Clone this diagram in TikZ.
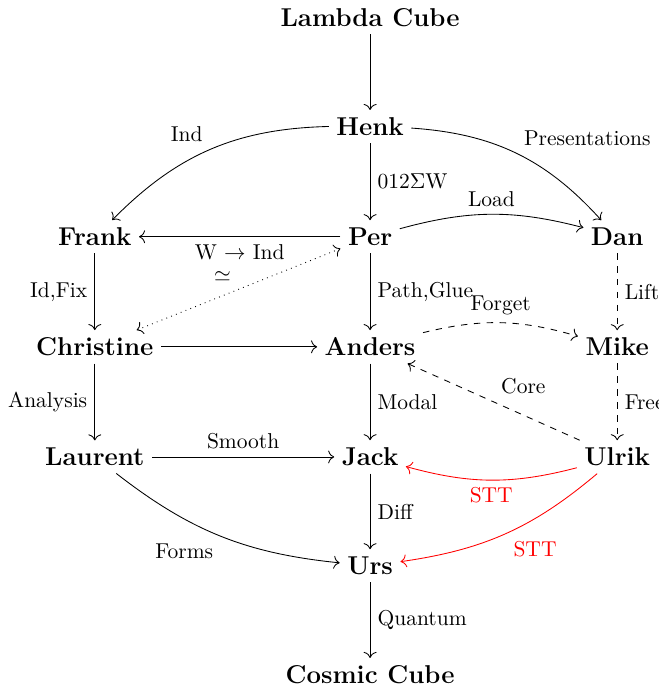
\documentclass[tikz,border=0pt]{standalone}
\usepackage{amsmath,amssymb}
\usepackage{tikz}
\usetikzlibrary{calc,arrows.meta}

\begin{document}
\begin{tikzpicture}[who/.style={font=\large\bfseries},
    lbl/.style={font=\normalsize},
    every edge/.style={draw,-{To[length=2.8pt,width=6pt]}},
    dashline/.style={dashed},
    stt/.style={red}]
            % Khung
            \useasboundingbox (0,0) rectangle (10.76,11.28);
            % Các nút
            \node[who] (lambda) at (6.05,10.99) {Lambda Cube};
            \node[who] (henk) at (6.05,9.21) {Henk};
            \node[who] (frank) at (1.55,7.41) {Frank};
            \node[who] (per) at (6.05,7.41) {Per};
            \node[who] (dan) at (10.09,7.41) {Dan};
            \node[who] (christine) at (1.55,5.61) {Christine};
            \node[who] (anders) at (6.05,5.61) {Anders};
            \node[who] (mike) at (10.09,5.61) {Mike};
            \node[who] (laurent) at (1.55,3.81) {Laurent};
            \node[who] (jack) at (6.05,3.81) {Jack};
            \node[who] (ulrik) at (10.09,3.81) {Ulrik};
            \node[who] (urs) at (6.05,2.03) {Urs};
            \node[who] (cosmic) at (6.05,0.25) {Cosmic Cube};
            % Các mũi tên dọc
            \draw (lambda) edge (henk);
            \draw (henk) edge node[lbl,auto] {012$\Sigma$W} (per);
            \draw (frank) edge node[lbl,auto,swap] {Id,Fix} (christine);
            \draw (per) edge node[lbl,auto] {Path,Glue} (anders);
            \draw (christine) edge node[lbl,auto,swap] {Analysis} (laurent);
            \draw (anders) edge node[lbl,auto] {Modal} (jack);
            \draw (jack) edge node[lbl,auto] {Diff} (urs);
            \draw (urs) edge node[lbl,auto] {Quantum} (cosmic);
            \draw[dashline] (dan) edge node[lbl,auto] {Lift} (mike);
            \draw[dashline] (mike) edge node[lbl,auto] {Free} (ulrik);
            % Các mũi tên ngang
            \draw (per) edge node[lbl,auto] {W $\to$ Ind} (frank);
            \draw (christine) edge (anders);
            \draw (laurent) edge node[lbl,auto] {Smooth} (jack);
            % Các mũi tên cong
            \draw (henk) edge[bend right=22] node[lbl,auto,swap] {Ind} (frank);
            \draw (henk) edge[bend left=22] node[lbl,auto] {Presentations} (dan);
            \draw (per) edge[bend left=15] node[lbl,auto] {Load} (dan);
            \draw[dashline] (anders) edge[bend left=15] node[lbl,auto] {Forget} (mike);
            \draw (laurent) edge[bend right=16] node[lbl,auto,swap] {Forms} (urs);
            % Mũi tên chấm
            \draw[dotted] (per) edge[{To[length=2.8pt,width=6pt]}-{To[length=2.8pt,width=6pt]}] node[lbl,auto,swap] {$\simeq$} (christine);
            \draw[dashline] (ulrik) edge node[lbl,auto,swap] {Core} (anders);
            % STT
            \draw[stt] (ulrik) edge[bend left=15] node[lbl,auto] {STT} (jack);
            \draw[stt] (ulrik) edge[bend left=16] node[lbl,auto] {STT} (urs);
        \end{tikzpicture}
\end{document}
